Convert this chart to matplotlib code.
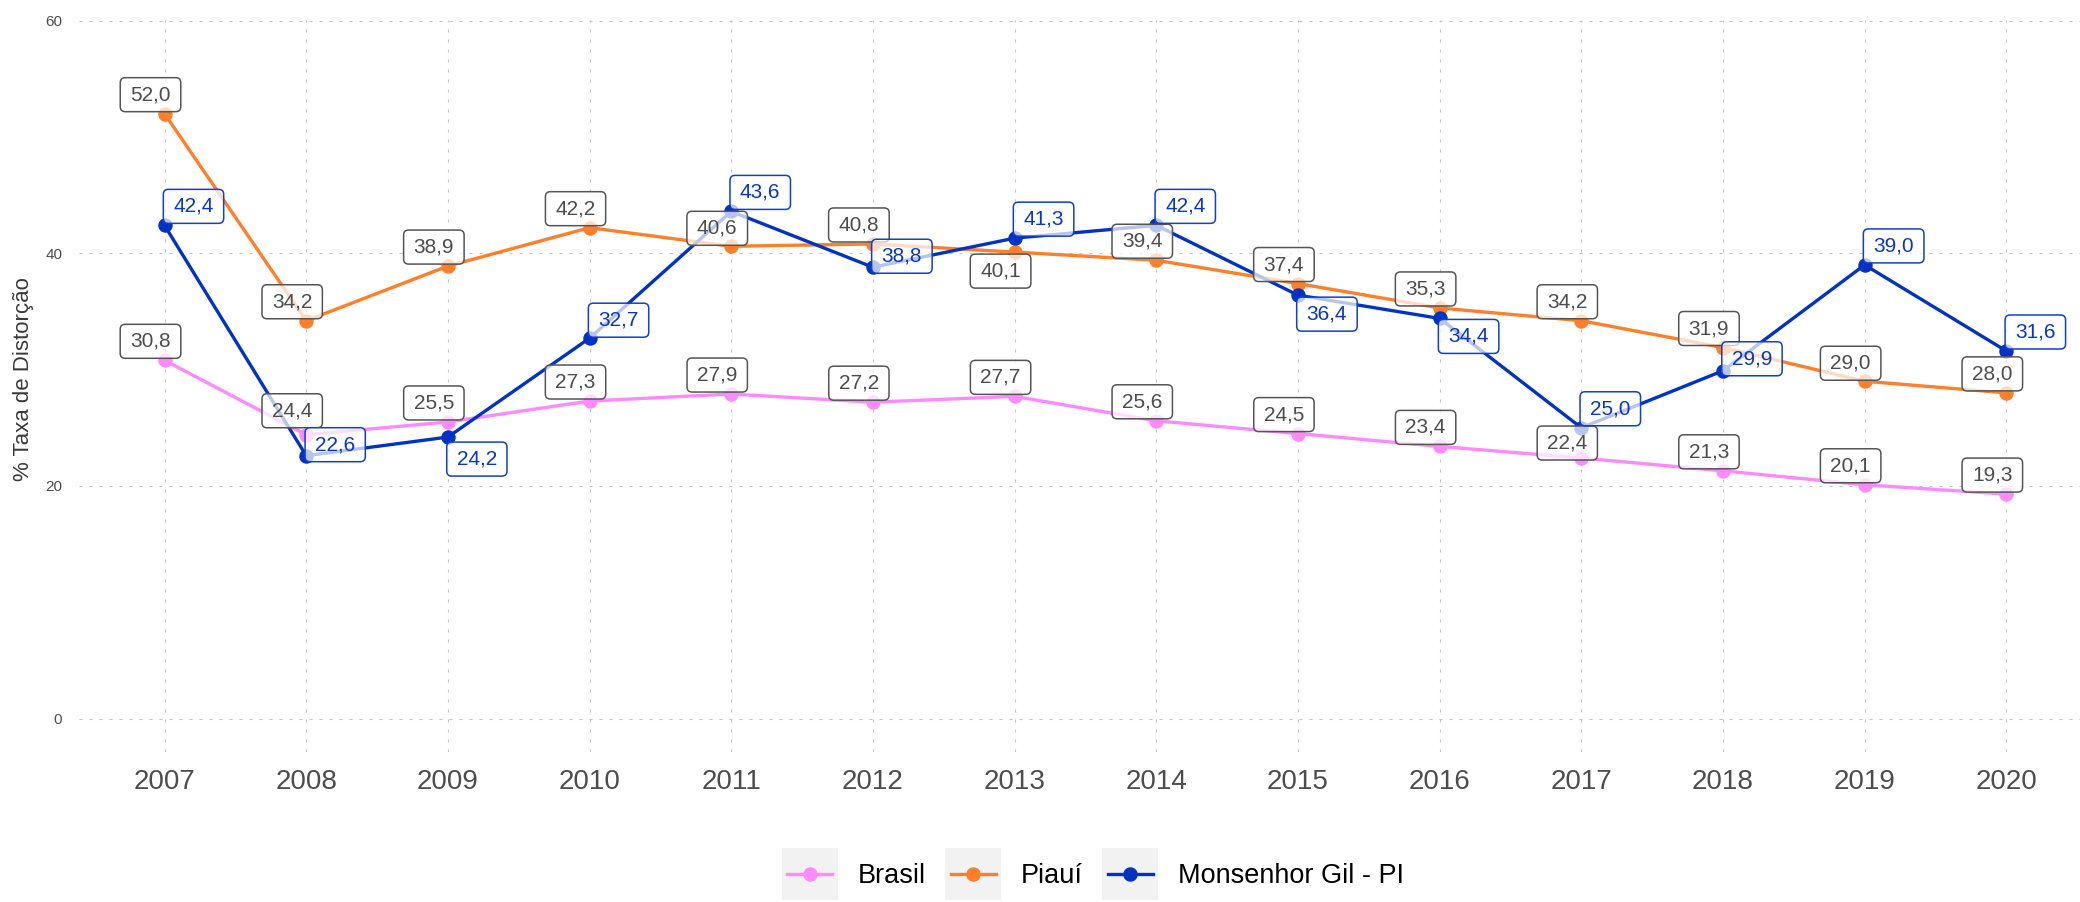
import matplotlib
matplotlib.use("Agg")
import matplotlib.pyplot as plt
from matplotlib.patches import Rectangle, BoxStyle
from matplotlib.lines import Line2D

# ---- data -------------------------------------------------------------
anos = [2007, 2008, 2009, 2010, 2011, 2012, 2013, 2014, 2015, 2016, 2017, 2018, 2019, 2020]
brasil = [30.8, 24.4, 25.5, 27.3, 27.9, 27.2, 27.7, 25.6, 24.5, 23.4, 22.4, 21.3, 20.1, 19.3]
piaui = [52.0, 34.2, 38.9, 42.2, 40.6, 40.8, 40.1, 39.4, 37.4, 35.3, 34.2, 31.9, 29.0, 28.0]
monsenhor = [42.4, 22.6, 24.2, 32.7, 43.6, 38.8, 41.3, 42.4, 36.4, 34.4, 25.0, 29.9, 39.0, 31.6]
nomes = ["Brasil", "Piauí", "Monsenhor Gil - PI"]
y_ticks = [0, 20, 40, 60]
y_titulo = "% Taxa de Distorção"

# ---- styling ----------------------------------------------------------
cores = ["#FF8AFF", "#FF7F2A", "#0033C4"]
label_text = ["#4D4D4D", "#4D4D4D", "#0A36C8"]
label_edge = ["#555555", "#555555", "#1040CC"]

# label offsets in pixels (dx, dy) relative to each point
dx_lab = [-14, -14, 29]
dy_brasil = [19, 24, 19, 19, 19, 19, 19, 19, 19, 19, 15, 19, 19, 19]
dy_piaui = [19, 19, 19, 19, 18, 19, -19, 19, 19, 19, 19, 19, 18, 19]
dy_mons = [19, 11, -22, 18, 19, 11, 19, 19, -19, -18, 19, 12, 19, 19]
dy_all = [dy_brasil, dy_piaui, dy_mons]

plt.rcParams["font.family"] = ["Liberation Sans", "DejaVu Sans"]
plt.rcParams["lines.scale_dashes"] = False


def fmt(v):
    return f"{v:.1f}".replace(".", ",")


def label_box(x0, y0, width, height, mutation_size):
    padx = 0.48 * mutation_size
    pady = 0.36 * mutation_size
    rounder = BoxStyle.Round(pad=0.0, rounding_size=0.24)
    return rounder(x0 - padx, y0 - pady, width + 2 * padx, height + 2 * pady, mutation_size)


class KeyBox:
    """Legend key: grey square background with a line and a centred dot."""

    def legend_artist(self, legend, orig_handle, fontsize, handlebox):
        xd, yd = handlebox.xdescent, handlebox.ydescent
        w, h = handlebox.width, handlebox.height
        cy = (h - yd) / 2
        box_h = 37.4
        tr = handlebox.get_transform()
        rect = Rectangle((-xd, cy - box_h / 2), w, box_h, facecolor="#F2F2F2",
                         edgecolor="none", transform=tr)
        x0 = -xd + 0.1 * w
        x1 = -xd + 0.9 * w
        ln = Line2D([x0, (x0 + x1) / 2, x1], [cy, cy, cy],
                    color=orig_handle.get_color(), lw=orig_handle.get_linewidth(),
                    marker="o", markersize=orig_handle.get_markersize(),
                    markevery=[1], transform=tr)
        handlebox.add_artist(rect)
        handlebox.add_artist(ln)
        return ln


fig = plt.figure(figsize=(20.8, 9.02), dpi=100)
ax = fig.add_axes([0.03822, 0.1663, 0.96178, 0.8115])

handles = []
for nome, serie, cor in zip(nomes, [brasil, piaui, monsenhor], cores):
    (h,) = ax.plot(anos, serie, color=cor, lw=2.4, marker="o", markersize=9.4,
                   solid_capstyle="round", zorder=3, label=nome)
    handles.append(h)

for i, serie in enumerate([brasil, piaui, monsenhor]):
    for ano, v, dy in zip(anos, serie, dy_all[i]):
        ax.annotate(fmt(v), xy=(ano, v), xytext=(dx_lab[i], dy),
                    textcoords="offset pixels", ha="center", va="center",
                    fontsize=15, color=label_text[i], zorder=5 + i,
                    bbox=dict(boxstyle=label_box, fc=(1, 1, 1, 0.72),
                              ec=label_edge[i], lw=1.1))

ax.set_xlim(2006.4, 2020.52)
ax.set_ylim(-2.87, 60.05)
ax.set_xticks(anos)
ax.set_xticklabels([str(a) for a in anos])
ax.set_yticks(y_ticks)
ax.tick_params(axis="x", length=0, pad=12, labelsize=20, labelcolor="#4D4D4D")
ax.tick_params(axis="y", length=0, pad=12.5, labelsize=11, labelcolor="#4D4D4D")
ax.grid(True, color="#C4C4C4", lw=0.8, linestyle=(0, (2.2, 5.0)))
ax.set_axisbelow(True)
for s in ax.spines.values():
    s.set_visible(False)

fig.text(24 / 2080, 0.58, y_titulo, rotation=90, ha="center", va="center",
         fontsize=16, color="#3A3A3A")

fig.legend(handles=handles, labels=nomes, handler_map={Line2D: KeyBox()},
           loc="center", bbox_to_anchor=(0.5255, 0.0285), ncol=3, frameon=False,
           prop=dict(size=19.5), handlelength=2.07, handletextpad=0.74,
           columnspacing=0.70, borderpad=0, borderaxespad=0)

fig.savefig("out.png", dpi=100)
